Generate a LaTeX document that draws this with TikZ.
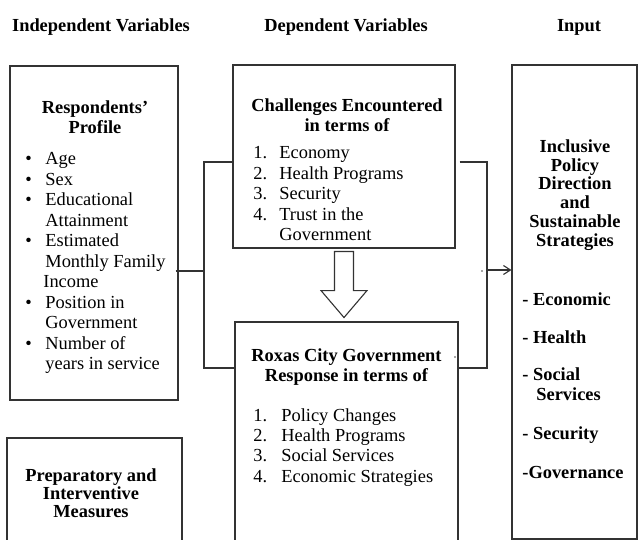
\documentclass[tikz,border=0pt]{standalone}
\usepackage{fontspec}
\setmainfont{Liberation Serif}
\usetikzlibrary{
  arrows.meta,
  calc,
  positioning,
  fit
}

\tikzset{
  box/.style={draw=black!80,line width=0.55pt,inner sep=0pt},
  head/.style={font=\fontsize{9.2}{10}\selectfont\bfseries,align=center,inner sep=0pt},
  items/.style={font=\fontsize{9.2}{10.25}\selectfont,inner sep=0pt,anchor=base west},
  link/.style={draw=black!80,line width=0.55pt}
}

\begin{document}
\begin{tikzpicture}[x=0.5pt,y=-0.5pt,>={Straight Barb[length=3.5pt,width=4.5pt]}]
  \useasboundingbox (0,0) rectangle (638,540);
  \clip (0,0) rectangle (638,540);

  % column titles
  \node[head] (hInd) at (101,27) {Independent Variables};
  \node[head] (hDep) at (346,27) {Dependent Variables};
  \node[head] (hIn)  at (579,27) {Input};

  % boxes
  \node[box,fit={(10,66) (178,400)}]  (prof) {};
  \node[box,fit={(233,65) (455,248)}] (chal) {};
  \node[box,fit={(235,322) (458,560)}] (resp) {};
  \node[box,fit={(512,65) (637,539)}] (inp) {};
  \node[box,fit={(7,438) (182,560)}]  (prep) {};

  % respondents' profile
  \node[head] (profT) at (95,117) {Respondents’\\Profile};
  \node[items] (profL) at (25,165) {%
    \begin{tabular}[t]{@{}p{10pt}@{}l@{}}
      \textbullet & Age\\
      \textbullet & Sex\\
      \textbullet & Educational\\
                  & Attainment\\
      \textbullet & Estimated\\
                  & Monthly Family\\
                  & \hspace{-1pt}Income\\
      \textbullet & Position in\\
                  & Government\\
      \textbullet & Number of\\
                  & years in service
    \end{tabular}};

  % challenges
  \node[head] (chalT) at (347,115) {Challenges Encountered\\in terms of};
  \node[items] (chalL) at (253,159) {%
    \begin{tabular}[t]{@{}p{13pt}@{}l@{}}
      1. & Economy\\
      2. & Health Programs\\
      3. & Security\\
      4. & Trust in the\\
         & Government
    \end{tabular}};

  % city response
  \node[head] (respT) at (346.5,367) {Roxas City Government\\Response in terms of};
  \node[items] (respL) at (253,421) {%
    \begin{tabular}[t]{@{}p{14pt}@{}l@{}}
      1. & Policy Changes\\
      2. & Health Programs\\
      3. & Social Services\\
      4. & Economic Strategies
    \end{tabular}};

  % input
  \node[head,font=\fontsize{9.2}{9.4}\selectfont\bfseries] (inpT) at (575,195)
    {Inclusive\\Policy\\Direction\\and\\Sustainable\\Strategies};
  \node[items,font=\fontsize{9.2}{10}\selectfont\bfseries] (inpL) at (522,306) {%
    \begin{tabular}[t]{@{}l@{}}
      - Economic\\[9pt]
      - Health\\[8.5pt]
      - Social\\
      \hspace{7pt}Services\\[9.5pt]
      - Security\\[9.5pt]
      -Governance
    \end{tabular}};

  % measures
  \node[head,font=\fontsize{9.2}{9}\selectfont\bfseries] (prepT) at (91,493)
    {Preparatory and\\Interventive\\Measures};

  % left links
  \coordinate (jTop) at (204,162);
  \coordinate (jMid) at (204,271);
  \coordinate (jBot) at (204,368);
  \draw[link] (chal.west |- jTop) -- (jTop) -- (jBot) -- (resp.west |- jBot);
  \draw[link] ([xshift=-1.5pt]prof.east |- jMid) -- (jMid);

  % right links
  \coordinate (kTop) at (487,162);
  \coordinate (kMid) at (487,270);
  \coordinate (kBot) at (487,368);
  \draw[link] ([xshift=2pt]chal.east |- kTop) -- (kTop) -- (kBot) -- (resp.east |- kBot);
  \draw[link,->] (kMid) -- (inp.west |- kMid);

  % stray dots
  \fill[black!70] (482,271) circle (0.4pt);
  \fill[black!70] (455,357) circle (0.4pt);

  % block arrow down
  \coordinate (flowTop) at ([yshift=-1.5pt]chal.south);
  \draw[link,fill=white] (flowTop) ++(-9.5,0) -- ++(0,39) -- ++(-13.5,0)
    -- ++(23,27) -- ++(23,-27) -- ++(-13.5,0) -- ++(0,-39) -- cycle;
\end{tikzpicture}
\end{document}
